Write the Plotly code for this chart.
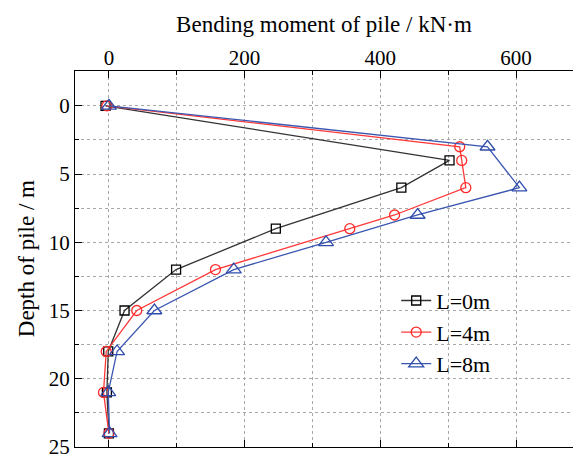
import plotly.graph_objects as go

# Bending moment (kN·m) against depth (m) for three embedment cases
depth_L0 = [0, 4, 6, 9, 12, 15, 18, 21, 24]
moment_L0 = [-5, 502, 431, 246, 99, 23, -1, -3, 0]

depth_L4 = [0, 3, 4, 6, 8, 9, 12, 15, 18, 21, 24]
moment_L4 = [-3, 517, 520, 526, 421, 355, 157, 41, -4, -8, 0]

depth_L8 = [0, 3, 6, 8, 10, 12, 15, 18, 21, 24]
moment_L8 = [0, 558, 605, 455, 320, 184, 67, 12, -1, 1]

series_names = ["L=0m", "L=4m", "L=8m"]

FONT = "'Liberation Serif', 'Times New Roman', Times, serif"

fig = go.Figure()

fig.add_trace(go.Scatter(
    x=moment_L0, y=depth_L0, name=series_names[0], mode="lines+markers",
    line=dict(color="#333333", width=1.3),
    marker=dict(symbol="square-open", size=9, color="#000000", line=dict(width=1.3)),
))
fig.add_trace(go.Scatter(
    x=moment_L4, y=depth_L4, name=series_names[1], mode="lines+markers",
    line=dict(color="#ff3838", width=1.3),
    marker=dict(symbol="circle-open", size=10, color="#ff2a2a", line=dict(width=1.3)),
))
fig.add_trace(go.Scatter(
    x=moment_L8, y=depth_L8, name=series_names[2], mode="lines+markers",
    line=dict(color="#3a56b0", width=1.3),
    marker=dict(symbol="triangle-up-open", size=13, color="#2f4cab", line=dict(width=1.3)),
))

grid = dict(showgrid=True, gridcolor="#a8a8a8", gridwidth=1, griddash="3px,3px")

fig.update_layout(
    width=573, height=454,
    margin=dict(l=75, r=0, t=71, b=7),
    paper_bgcolor="white", plot_bgcolor="white",
    font=dict(family=FONT, size=21, color="#000000"),
    showlegend=True,
    legend=dict(
        x=0.645, y=0.445, xanchor="left", yanchor="top",
        bgcolor="rgba(0,0,0,0)", borderwidth=0,
        font=dict(family=FONT, size=22), tracegroupgap=0,
    ),
    xaxis=dict(
        side="top", range=[-50, 684], tickvals=[0, 200, 400, 600],
        ticks="inside", ticklen=7, tickcolor="#000000",
        showline=True, linecolor="#000000", linewidth=1.2, mirror="ticks",
        zeroline=False, ticklabelstandoff=-3,
        minor=dict(dtick=100, ticks="inside", ticklen=4, tickcolor="#000000",
                   showgrid=True, gridcolor="#a8a8a8", griddash="3px,3px"),
        title=dict(text="Bending moment of pile / kN·m", font=dict(size=23), standoff=6),
        **grid,
    ),
    yaxis=dict(
        range=[25.0, -2.55], tickvals=[0, 5, 10, 15, 20, 25],
        ticks="inside", ticklen=7, tickcolor="#000000",
        showline=True, linecolor="#000000", linewidth=1.2,
        zeroline=False, ticklabeloverflow="allow", automargin=False,
        minor=dict(dtick=2.5, ticks="inside", ticklen=4, tickcolor="#000000",
                   showgrid=True, gridcolor="#a8a8a8", griddash="3px,3px"),
        **grid,
    ),
    annotations=[dict(
        text="Depth of pile / m", textangle=-90, showarrow=False,
        xref="paper", yref="paper", x=-0.098, y=0.5,
        xanchor="center", yanchor="middle", font=dict(family=FONT, size=23),
    )],
)

fig.write_html("out.html")
